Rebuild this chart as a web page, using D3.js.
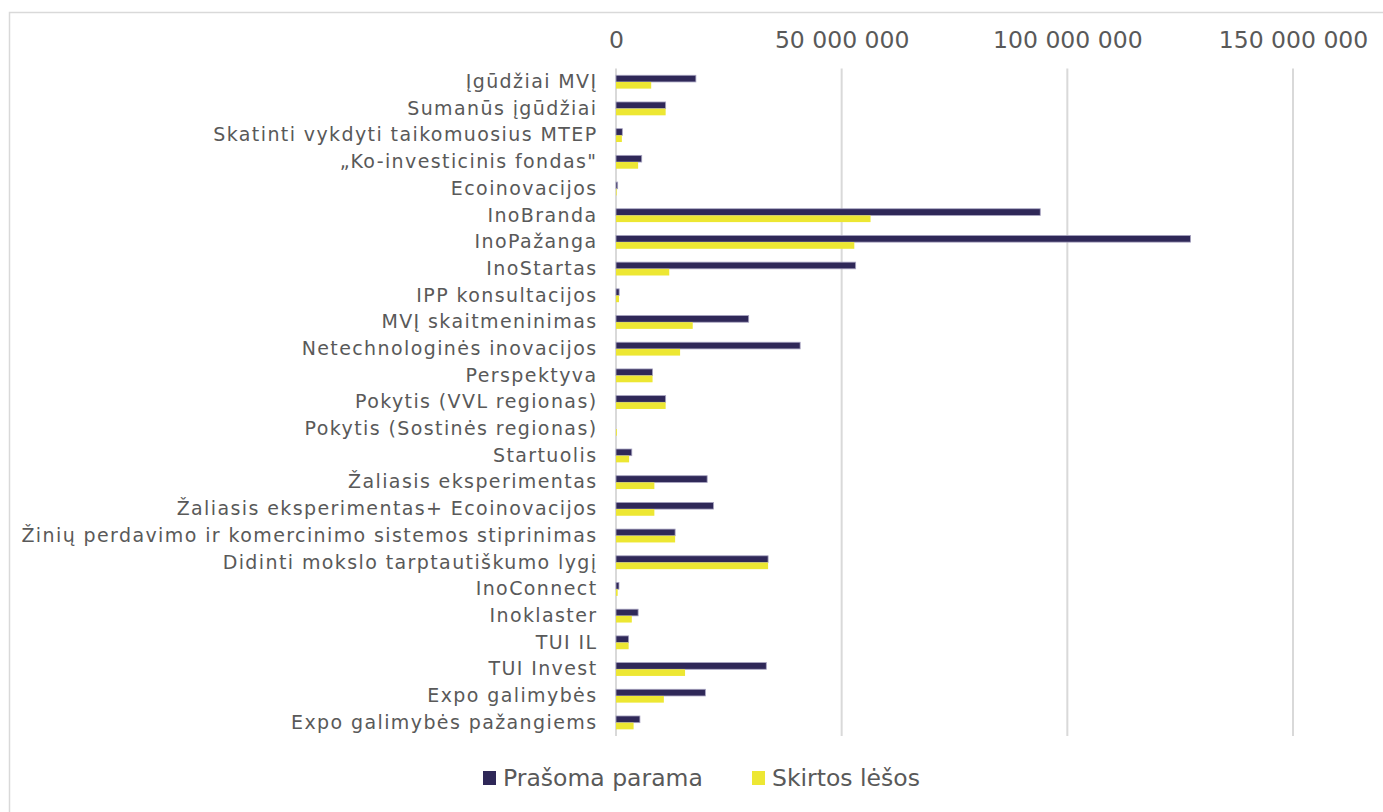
<!DOCTYPE html>
<html lang="lt">
<head>
<meta charset="utf-8">
<script src="https://cdn.jsdelivr.net/npm/d3@7"></script>
<style>
  html, body { margin: 0; padding: 0; background: #fff; }
  svg { display: block; }
  text { font-family: "DejaVu Sans", Verdana, sans-serif; fill: #595959; }
</style>
</head>
<body>
<svg id="chart" width="1383" height="812"></svg>
<script>
// Programos / priemonės
const categories = [
  "Įgūdžiai MVĮ",
  "Sumanūs įgūdžiai",
  "Skatinti vykdyti taikomuosius MTEP",
  "„Ko-investicinis fondas\"",
  "Ecoinovacijos",
  "InoBranda",
  "InoPažanga",
  "InoStartas",
  "IPP konsultacijos",
  "MVĮ skaitmeninimas",
  "Netechnologinės inovacijos",
  "Perspektyva",
  "Pokytis (VVL regionas)",
  "Pokytis (Sostinės regionas)",
  "Startuolis",
  "Žaliasis eksperimentas",
  "Žaliasis eksperimentas+ Ecoinovacijos",
  "Žinių perdavimo ir komercinimo sistemos stiprinimas",
  "Didinti mokslo tarptautiškumo lygį",
  "InoConnect",
  "Inoklaster",
  "TUI IL",
  "TUI Invest",
  "Expo galimybės",
  "Expo galimybės pažangiems"
];

// Prašoma parama, EUR
const requested = [
  17.7e6, 11.0e6, 1.4e6, 5.7e6, 0.37e6, 94.0e6, 127.3e6, 53.1e6, 0.7e6, 29.4e6,
  40.8e6, 8.1e6, 11.0e6, 0, 3.5e6, 20.2e6, 21.6e6, 13.1e6, 33.7e6, 0.66e6,
  4.9e6, 2.8e6, 33.3e6, 19.8e6, 5.3e6
];

// Skirtos lėšos, EUR
const allocated = [
  7.8e6, 11.0e6, 1.3e6, 4.9e6, 0.15e6, 56.4e6, 52.8e6, 11.8e6, 0.66e6, 17.0e6,
  14.2e6, 8.1e6, 11.0e6, 0.2e6, 2.9e6, 8.5e6, 8.5e6, 13.1e6, 33.7e6, 0.37e6,
  3.5e6, 2.8e6, 15.3e6, 10.6e6, 3.9e6
];

const seriesNames = ["Prašoma parama", "Skirtos lėšos"];
const seriesColors = ["#2f2858", "#ede733"];
const tickValues = [0, 50e6, 100e6, 150e6];

const svg = d3.select("#chart");

// outer chart frame
svg.append("rect")
  .attr("x", 9.5).attr("y", 12.5)
  .attr("width", 1400).attr("height", 820)
  .attr("fill", "none").attr("stroke", "#d9d9d9").attr("stroke-width", 1.5);

const plot = { left: 616, right: 1293, top: 68.6, bottom: 736 };

const x = d3.scaleLinear().domain([0, 150e6]).range([plot.left, plot.right]);
const y = d3.scaleBand().domain(categories).range([plot.top, plot.bottom])
  .paddingInner(0.5).paddingOuter(0.25);
const ySub = d3.scaleBand().domain([0, 1]).range([0, y.bandwidth()]);

// vertical gridlines
svg.append("g")
  .selectAll("line")
  .data(tickValues)
  .join("line")
  .attr("x1", d => x(d)).attr("x2", d => x(d))
  .attr("y1", plot.top).attr("y2", plot.bottom)
  .attr("stroke", "#d9d9d9").attr("stroke-width", 2);

// top value axis
const fmt = v => d3.format(",")(v).replace(/,/g, " ");
const xAxis = svg.append("g")
  .attr("transform", `translate(0,${plot.top})`)
  .call(d3.axisTop(x).tickValues(tickValues).tickFormat(fmt).tickSize(0).tickPadding(21));
xAxis.select(".domain").remove();
xAxis.selectAll("text")
  .attr("font-size", 23.5)
  .attr("font-family", "DejaVu Sans")
  .attr("fill", "#595959");

// category axis
const yAxis = svg.append("g")
  .attr("transform", `translate(${plot.left},0)`)
  .call(d3.axisLeft(y).tickSize(0).tickPadding(18.5));
yAxis.select(".domain").remove();
yAxis.selectAll("text")
  .attr("font-size", 19)
  .attr("letter-spacing", 1.4)
  .attr("font-family", "DejaVu Sans")
  .attr("fill", "#595959");

// bars
const rows = categories.map((c, i) => ({ c, vals: [requested[i], allocated[i]] }));
const groups = svg.append("g").selectAll("g")
  .data(rows)
  .join("g")
  .attr("transform", d => `translate(0,${y(d.c)})`);

groups.selectAll("rect")
  .data(d => d.vals.map((v, k) => ({ v, k })))
  .join("rect")
  .attr("x", x(0))
  .attr("y", d => ySub(d.k))
  .attr("width", d => x(d.v) - x(0))
  .attr("height", ySub.bandwidth())
  .attr("fill", d => seriesColors[d.k])
  .attr("stroke", d => d.k === 0 ? "#a7a3c0" : "none")
  .attr("stroke-width", d => d.v > 0 ? 0.8 : 0);

// legend
const legend = svg.append("g").attr("transform", "translate(483,771)");
const legendOffsets = [0, 269];
seriesNames.forEach((name, i) => {
  const g = legend.append("g").attr("transform", `translate(${legendOffsets[i]},0)`);
  g.append("rect").attr("width", 13).attr("height", 14).attr("fill", seriesColors[i]);
  g.append("text")
    .attr("x", 20).attr("y", 15)
    .attr("font-size", 23.5)
    .text(name);
});
</script>
</body>
</html>
